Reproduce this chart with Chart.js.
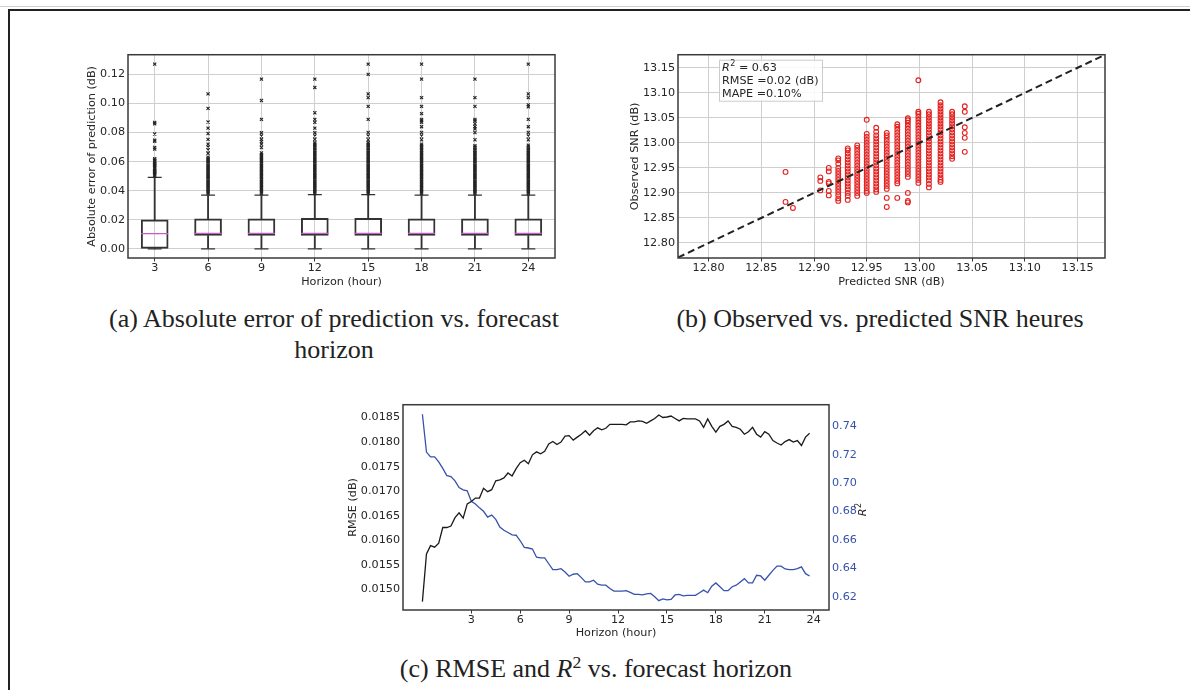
<!DOCTYPE html>
<html>
<head>
<meta charset="utf-8">
<script src="https://cdn.jsdelivr.net/npm/chart.js@4.4.0/dist/chart.umd.min.js"></script>
<style>
  body { margin: 0; width: 1190px; height: 690px; background: #fff; position: relative; overflow: hidden; }
  canvas { position: absolute; }
  .rule { position: absolute; left: 0; top: 6px; width: 1190px; height: 1px; background: #d0d0d0; }
  .frame { position: absolute; left: 8px; top: 9px; width: 1180px; height: 681px; border-top: 2px solid #222; border-left: 2px solid #222; }
  .cap { position: absolute; width: 500px; font-family: "Liberation Serif", "Times New Roman", serif; font-size: 26px; line-height: 31px; color: #222; text-align: center; white-space: nowrap; }
  .cap sup { font-size: 0.68em; line-height: 0; vertical-align: 0.5em; }
</style>
</head>
<body>
<div class="rule"></div>
<div class="frame"></div>
<canvas id="chartA" width="505" height="245" style="left:60px; top:45px;"></canvas>
<canvas id="chartB" width="505" height="245" style="left:615px; top:45px;"></canvas>
<canvas id="chartC" width="540" height="245" style="left:330px; top:395px;"></canvas>
<div class="cap" style="left:84px; top:303px;">(a) Absolute error of prediction vs. forecast<br>horizon</div>
<div class="cap" style="left:630px; top:303px;">(b) Observed vs. predicted SNR heures</div>
<div class="cap" style="left:346px; top:653px;">(c) RMSE and <i>R</i><sup>2</sup> vs. forecast horizon</div>
<script>
// ---- (a) box plot: absolute error per horizon ----
const horizonLabels = ['3', '6', '9', '12', '15', '18', '21', '24'];
const boxQ1 = [0.0000, 0.0092, 0.0092, 0.0092, 0.0092, 0.0092, 0.0092, 0.0092];
const boxMedian = [0.0105, 0.0106, 0.0106, 0.0106, 0.0106, 0.0106, 0.0106, 0.0106];
const boxQ3 = [0.0199, 0.0206, 0.0206, 0.0210, 0.0210, 0.0206, 0.0206, 0.0206];
const whiskerLow = [0, 0, 0, 0, 0, 0, 0, 0];
const whiskerHigh = [0.0492, 0.0369, 0.0369, 0.0373, 0.0373, 0.0369, 0.0369, 0.0369];

const out3 = [0.0500, 0.0508, 0.0516, 0.0524, 0.0532, 0.0540, 0.0548, 0.0556, 0.0564, 0.0572, 0.0580, 0.0588,
  0.0596, 0.0604, 0.0612, 0.0620, 0.0686, 0.0697, 0.0740, 0.0748, 0.0790, 0.0860, 0.0870, 0.1270];
const out6 = [0.038, 0.039, 0.040, 0.041, 0.042, 0.043, 0.044, 0.045, 0.046, 0.047, 0.048, 0.049, 0.050, 0.051,
  0.052, 0.053, 0.054, 0.055, 0.056, 0.057, 0.058, 0.059, 0.060, 0.061, 0.062, 0.063, 0.0657, 0.068, 0.070,
  0.072, 0.0753, 0.0793, 0.083, 0.0872, 0.0966, 0.1066];
const out9 = [0.038, 0.039, 0.040, 0.041, 0.042, 0.043, 0.044, 0.045, 0.046, 0.047, 0.048, 0.049, 0.050, 0.051,
  0.052, 0.053, 0.054, 0.055, 0.056, 0.057, 0.058, 0.059, 0.060, 0.061, 0.062, 0.063, 0.064, 0.065, 0.066,
  0.0697, 0.072, 0.0738, 0.0753, 0.0776, 0.0798, 0.089, 0.102, 0.1167];
const out12 = [0.038, 0.039, 0.040, 0.041, 0.042, 0.043, 0.044, 0.045, 0.046, 0.047, 0.048, 0.049, 0.050, 0.051,
  0.052, 0.053, 0.054, 0.055, 0.056, 0.057, 0.058, 0.059, 0.060, 0.061, 0.062, 0.063, 0.064, 0.065, 0.066,
  0.067, 0.068, 0.069, 0.070, 0.071, 0.072, 0.073, 0.0753, 0.0776, 0.0798, 0.083, 0.087, 0.089, 0.0936,
  0.111, 0.1167];
const out15 = [0.038, 0.039, 0.040, 0.041, 0.042, 0.043, 0.044, 0.045, 0.046, 0.047, 0.048, 0.049, 0.050, 0.051,
  0.052, 0.053, 0.054, 0.055, 0.056, 0.057, 0.058, 0.059, 0.060, 0.061, 0.062, 0.063, 0.064, 0.065, 0.066,
  0.067, 0.068, 0.069, 0.070, 0.071, 0.072, 0.073, 0.075, 0.0776, 0.080, 0.089, 0.098, 0.104, 0.1066,
  0.120, 0.127];
const out18 = [0.038, 0.039, 0.040, 0.041, 0.042, 0.043, 0.044, 0.045, 0.046, 0.047, 0.048, 0.049, 0.050, 0.051,
  0.052, 0.053, 0.054, 0.055, 0.056, 0.057, 0.058, 0.059, 0.060, 0.061, 0.062, 0.063, 0.064, 0.065, 0.066,
  0.067, 0.068, 0.069, 0.070, 0.071, 0.072, 0.075, 0.0776, 0.080, 0.084, 0.087, 0.088, 0.089, 0.093,
  0.098, 0.104, 0.1167, 0.127];
const out21 = [0.038, 0.039, 0.040, 0.041, 0.042, 0.043, 0.044, 0.045, 0.046, 0.047, 0.048, 0.049, 0.050, 0.051,
  0.052, 0.053, 0.054, 0.055, 0.056, 0.057, 0.058, 0.059, 0.060, 0.061, 0.062, 0.063, 0.064, 0.065, 0.066,
  0.067, 0.068, 0.069, 0.070, 0.071, 0.075, 0.080, 0.0825, 0.084, 0.086, 0.088, 0.089, 0.098, 0.104,
  0.1167];
const out24 = [0.038, 0.039, 0.040, 0.041, 0.042, 0.043, 0.044, 0.045, 0.046, 0.047, 0.048, 0.049, 0.050, 0.051,
  0.052, 0.053, 0.054, 0.055, 0.056, 0.057, 0.058, 0.059, 0.060, 0.061, 0.062, 0.063, 0.064, 0.065, 0.066,
  0.067, 0.068, 0.069, 0.070, 0.0713, 0.075, 0.0776, 0.080, 0.084, 0.089, 0.0977, 0.099, 0.104, 0.1066,
  0.127];
const outlierSets = [out3, out6, out9, out12, out15, out18, out21, out24];
const errTicks = [0.00, 0.02, 0.04, 0.06, 0.08, 0.10, 0.12];

// ---- (b) observed vs predicted SNR ----
const snrPredicted = [12.873, 12.880, 12.906, 12.914, 12.923, 12.932, 12.941, 12.950, 12.959, 12.969,
  12.979, 12.989, 12.999, 13.009, 13.020, 13.031, 13.043];
const snrObserved = [
  [12.942, 12.882],
  [12.870],
  [12.931, 12.924, 12.905],
  [12.950, 12.943, 12.922, 12.919, 12.904, 12.895],
  [12.969, 12.965, 12.958, 12.950, 12.944, 12.938, 12.932, 12.926, 12.920, 12.914, 12.908, 12.902, 12.896, 12.889, 12.884],
  [12.989, 12.985, 12.979, 12.973, 12.967, 12.961, 12.955, 12.949, 12.943, 12.937, 12.931, 12.925, 12.919, 12.913, 12.907, 12.900, 12.894, 12.886],
  [12.995, 12.990, 12.984, 12.978, 12.972, 12.966, 12.960, 12.954, 12.948, 12.942, 12.936, 12.930, 12.924, 12.918, 12.912, 12.906, 12.900, 12.894],
  [13.046, 13.018, 13.012, 13.006, 13.000, 12.994, 12.988, 12.982, 12.976, 12.970, 12.964, 12.958, 12.952, 12.946, 12.940, 12.934, 12.928, 12.922, 12.916, 12.910, 12.904, 12.900],
  [13.030, 13.022, 13.015, 13.009, 13.003, 12.997, 12.991, 12.985, 12.979, 12.973, 12.967, 12.961, 12.955, 12.949, 12.943, 12.937, 12.931, 12.925, 12.919, 12.913, 12.907, 12.902],
  [13.020, 13.015, 13.010, 13.004, 12.998, 12.992, 12.986, 12.980, 12.974, 12.968, 12.962, 12.956, 12.950, 12.944, 12.938, 12.932, 12.926, 12.920, 12.914, 12.908, 12.890, 12.872],
  [13.037, 13.032, 13.026, 13.020, 13.014, 13.008, 13.002, 12.996, 12.990, 12.984, 12.978, 12.972, 12.966, 12.960, 12.954, 12.948, 12.942, 12.936, 12.930, 12.924, 12.919, 12.890],
  [13.049, 13.045, 13.040, 13.034, 13.028, 13.022, 13.016, 13.010, 13.004, 12.998, 12.992, 12.986, 12.980, 12.974, 12.968, 12.962, 12.956, 12.950, 12.944, 12.938, 12.932, 12.900, 12.884, 12.881],
  [13.125, 13.062, 13.058, 13.052, 13.046, 13.040, 13.034, 13.028, 13.022, 13.016, 13.010, 13.004, 12.998, 12.992, 12.986, 12.980, 12.974, 12.968, 12.962, 12.956, 12.950, 12.944, 12.938, 12.932, 12.926, 12.920],
  [13.062, 13.057, 13.051, 13.045, 13.039, 13.033, 13.027, 13.021, 13.015, 13.009, 13.003, 12.997, 12.991, 12.985, 12.979, 12.973, 12.967, 12.961, 12.955, 12.949, 12.943, 12.937, 12.931, 12.925, 12.918, 12.911],
  [13.081, 13.075, 13.069, 13.063, 13.057, 13.051, 13.045, 13.039, 13.033, 13.027, 13.021, 13.015, 13.009, 13.003, 12.997, 12.991, 12.985, 12.979, 12.973, 12.967, 12.961, 12.955, 12.949, 12.943, 12.937, 12.931, 12.926, 12.922],
  [13.062, 13.057, 13.051, 13.045, 13.039, 13.033, 13.027, 13.021, 13.015, 13.009, 13.003, 12.997, 12.991, 12.985, 12.979, 12.973, 12.968],
  [13.073, 13.062, 13.031, 13.020, 13.010, 12.982]
];
const snrRange = [12.771, 13.176];
const snrTicks = [12.80, 12.85, 12.90, 12.95, 13.00, 13.05, 13.10, 13.15];
const statsLines = ['R2', 'RMSE =0.02 (dB)', 'MAPE =0.10%'];

// ---- (c) RMSE and R2 vs horizon ----
const hoursC = [0, 0.25, 0.5, 0.75, 1, 1.25, 1.5, 1.75, 2, 2.25, 2.5, 2.75, 3, 3.25, 3.5, 3.75, 4, 4.25, 4.5, 4.75,
  5, 5.25, 5.5, 5.75, 6, 6.25, 6.5, 6.75, 7, 7.25, 7.5, 7.75, 8, 8.25, 8.5, 8.75, 9, 9.25, 9.5, 9.75, 10, 10.25,
  10.5, 10.75, 11, 11.25, 11.5, 11.75, 12, 12.25, 12.5, 12.75, 13, 13.25, 13.5, 13.75, 14, 14.25, 14.5, 14.75,
  15, 15.25, 15.5, 15.75, 16, 16.25, 16.5, 16.75, 17, 17.25, 17.5, 17.75, 18, 18.25, 18.5, 18.75, 19, 19.25,
  19.5, 19.75, 20, 20.25, 20.5, 20.75, 21, 21.25, 21.5, 21.75, 22, 22.25, 22.5, 22.75, 23, 23.25, 23.5, 23.75];
const rmseC = [
  0.01475, 0.01572, 0.01589, 0.01586, 0.01594, 0.01626, 0.01626, 0.01629, 0.01646, 0.01656, 0.01645, 0.01674,
  0.01679, 0.01686, 0.01686, 0.01706, 0.01699, 0.01703, 0.01721, 0.01723, 0.01727, 0.01737, 0.01731, 0.01746,
  0.01758, 0.01763, 0.01756, 0.01774, 0.01780, 0.01776, 0.01781, 0.01796, 0.01801, 0.01795, 0.01800, 0.01812,
  0.01813, 0.01804, 0.01810, 0.01816, 0.01823, 0.01814, 0.01823, 0.01829, 0.01825, 0.01828, 0.01836, 0.01836,
  0.01836, 0.01836, 0.01835, 0.01841, 0.01841, 0.01843, 0.01842, 0.01838, 0.01843, 0.01848, 0.01855, 0.01850,
  0.01851, 0.01853, 0.01848, 0.01843, 0.01848, 0.01847, 0.01847, 0.01847, 0.01843, 0.01830, 0.01847, 0.01832,
  0.01820, 0.01832, 0.01836, 0.01843, 0.01832, 0.01830, 0.01826, 0.01816, 0.01821, 0.01830, 0.01816, 0.01810,
  0.01821, 0.01816, 0.01803, 0.01798, 0.01794, 0.01801, 0.01805, 0.01800, 0.01803, 0.01793, 0.01810, 0.01818];
const r2C = [
  0.7486, 0.7219, 0.7185, 0.7185, 0.7150, 0.7104, 0.7053, 0.7046, 0.7016, 0.6969, 0.6953, 0.6946,
  0.6872, 0.6853, 0.6826, 0.6802, 0.6761, 0.6775, 0.6745, 0.6691, 0.6668, 0.6652, 0.6636, 0.6633,
  0.6594, 0.6548, 0.6543, 0.6536, 0.6478, 0.6473, 0.6473, 0.6432, 0.6390, 0.6390, 0.6397, 0.6374,
  0.6344, 0.6358, 0.6362, 0.6334, 0.6304, 0.6304, 0.6316, 0.6288, 0.6281, 0.6281, 0.6258, 0.6239,
  0.6239, 0.6239, 0.6242, 0.6230, 0.6216, 0.6216, 0.6212, 0.6219, 0.6223, 0.6200, 0.6172, 0.6184,
  0.6177, 0.6181, 0.6212, 0.6216, 0.6205, 0.6209, 0.6209, 0.6209, 0.6228, 0.6246, 0.6228, 0.6274,
  0.6297, 0.6270, 0.6242, 0.6242, 0.6270, 0.6281, 0.6304, 0.6327, 0.6297, 0.6297, 0.6351, 0.6346,
  0.6316, 0.6351, 0.6385, 0.6415, 0.6415, 0.6395, 0.6390, 0.6390, 0.6397, 0.6410, 0.6362, 0.6346];
const hourTicks = [3, 6, 9, 12, 15, 18, 21, 24];
const rmseTicks = [0.0150, 0.0155, 0.0160, 0.0165, 0.0170, 0.0175, 0.0180, 0.0185];
const r2Ticks = [0.62, 0.64, 0.66, 0.68, 0.70, 0.72, 0.74];

// ---- shared styling ----
const TEXT = '#262626';
const GRID = '#cfcfcf';
const BLUE = '#3652ad';
Chart.defaults.font.family = '"DejaVu Sans", sans-serif';
Chart.defaults.font.size = 11.2;
Chart.defaults.color = TEXT;
Chart.defaults.animation = false;
Chart.defaults.plugins.legend.display = false;
Chart.defaults.plugins.tooltip.enabled = false;

// box round the plot area, matplotlib style
const frame = {
  id: 'frame',
  afterDraw(chart) {
    const { ctx, chartArea: a } = chart;
    ctx.save();
    ctx.strokeStyle = '#3a3a3a';
    ctx.lineWidth = 1.5;
    ctx.strokeRect(a.left, a.top, a.right - a.left, a.bottom - a.top);
    ctx.restore();
  }
};

function setTicks(values) {
  return scale => { scale.ticks = values.map(v => ({ value: v })); };
}

// draws an italic R with a raised 2, returns the width used
function drawR2(ctx, x, y, size) {
  ctx.font = 'italic ' + size + 'px "DejaVu Sans"';
  ctx.fillText('R', x, y);
  const w = ctx.measureText('R').width;
  ctx.font = Math.round(size * 0.7) + 'px "DejaVu Sans"';
  ctx.fillText('2', x + w + 0.5, y - size * 0.38);
  return w + 0.5 + ctx.measureText('2').width;
}

// (a)
const outlierPoints = outlierSets.flatMap((vals, i) => vals.map(v => ({ x: horizonLabels[i], y: v })));
const medianPoints = boxMedian.map((v, i) => ({ x: horizonLabels[i], y: v }));
const capPoints = horizonLabels.flatMap((h, i) => [{ x: h, y: whiskerLow[i] }, { x: h, y: whiskerHigh[i] }]);

new Chart(document.getElementById('chartA'), {
  type: 'bar',
  data: {
    labels: horizonLabels,
    datasets: [
      { type: 'line', data: outlierPoints, showLine: false, pointStyle: 'crossRot', pointRadius: 2.2,
        pointBorderColor: '#222', pointBorderWidth: 1.1, pointBackgroundColor: '#222', order: 1 },
      { type: 'line', data: medianPoints, showLine: false, pointStyle: 'line', pointRadius: 13.5,
        pointBorderColor: '#c45ec4', pointBorderWidth: 1.2, order: 2 },
      { type: 'line', data: capPoints, showLine: false, pointStyle: 'line', pointRadius: 7,
        pointBorderColor: '#333', pointBorderWidth: 1.3, order: 3 },
      { type: 'bar', data: boxQ1.map((q, i) => [q, boxQ3[i]]), barThickness: 27, grouped: false,
        backgroundColor: 'rgba(0,0,0,0)', borderColor: '#333', borderWidth: 1.3, borderSkipped: false, order: 4 },
      { type: 'bar', data: boxQ3.map((q, i) => [q, whiskerHigh[i]]), barThickness: 1.2, grouped: false,
        backgroundColor: '#333', borderWidth: 0, order: 5 },
      { type: 'bar', data: whiskerLow.map((w, i) => [w, boxQ1[i]]), barThickness: 1.2, grouped: false,
        backgroundColor: '#333', borderWidth: 0, order: 6 }
    ]
  },
  options: {
    responsive: false,
    layout: { autoPadding: false, padding: { top: 5, right: 10, left: 0, bottom: 0 } },
    scales: {
      x: {
        type: 'category', offset: true,
        grid: { color: GRID, offset: false, tickLength: 3.5, tickColor: '#333' },
        border: { display: false },
        ticks: { padding: 0, maxRotation: 0 },
        title: { display: true, text: 'Horizon (hour)', padding: { top: 0, bottom: 1.5 } },
        afterFit: s => { s.height = 32; }
      },
      y: {
        min: -0.0063, max: 0.1335,
        afterBuildTicks: setTicks(errTicks),
        grid: { color: GRID, drawTicks: false },
        border: { display: false },
        ticks: { padding: 3, callback: v => Number(v).toFixed(2) },
        title: { display: true, text: 'Absolute error of prediction (dB)', padding: { top: 25 } },
        afterFit: s => { s.width = 68; }
      }
    }
  },
  plugins: [frame]
});

// (b)
const snrPoints = snrPredicted.flatMap((p, i) => snrObserved[i].map(o => ({ x: p, y: o })));
const diagonal = snrRange.map(v => ({ x: v, y: v }));

const statsBox = {
  id: 'statsBox',
  afterDatasetsDraw(chart) {
    const { ctx, chartArea: a } = chart;
    const x = a.left + 41, y = a.top + 5;
    ctx.save();
    ctx.fillStyle = 'rgba(255,255,255,0.85)';
    ctx.fillRect(x, y, 103, 41);
    ctx.strokeStyle = '#cccccc';
    ctx.lineWidth = 1;
    ctx.strokeRect(x + 0.5, y + 0.5, 103, 41);
    ctx.fillStyle = TEXT;
    ctx.textBaseline = 'middle';
    const w = drawR2(ctx, x + 3, y + 8, 11.2);
    ctx.font = '11.2px "DejaVu Sans"';
    ctx.fillText(' = 0.63', x + 3 + w, y + 8);
    ctx.fillText(statsLines[1], x + 3, y + 21);
    ctx.fillText(statsLines[2], x + 3, y + 34);
    ctx.restore();
  }
};

new Chart(document.getElementById('chartB'), {
  type: 'scatter',
  data: {
    datasets: [
      { type: 'line', data: diagonal, borderColor: '#222', borderWidth: 2, borderDash: [7, 4],
        pointRadius: 0, order: 0 },
      { data: snrPoints, pointStyle: 'circle', pointRadius: 2.4, pointBorderWidth: 1.1,
        pointBorderColor: '#e3201e', pointBackgroundColor: 'rgba(0,0,0,0)', order: 1 }
    ]
  },
  options: {
    responsive: false,
    layout: { autoPadding: false, padding: { top: 5, right: 15, left: 0, bottom: 0 } },
    scales: {
      x: {
        type: 'linear', min: snrRange[0], max: snrRange[1],
        afterBuildTicks: setTicks(snrTicks),
        grid: { color: GRID, tickLength: 3.5, tickColor: '#333' },
        border: { display: false },
        ticks: { padding: 0, maxRotation: 0, callback: v => Number(v).toFixed(2) },
        title: { display: true, text: 'Predicted SNR (dB)', padding: { top: 0, bottom: 1.5 } },
        afterFit: s => { s.height = 32; }
      },
      y: {
        type: 'linear', min: snrRange[0] - 0.001, max: snrRange[1],
        afterBuildTicks: setTicks(snrTicks),
        grid: { color: GRID, drawTicks: false },
        border: { display: false },
        ticks: { padding: 3, callback: v => Number(v).toFixed(2) },
        title: { display: true, text: 'Observed SNR (dB)', padding: { top: 13 } },
        afterFit: s => { s.width = 63; }
      }
    }
  },
  plugins: [frame, statsBox]
});

// (c)
const r2Title = {
  id: 'r2Title',
  afterDraw(chart) {
    const { ctx, chartArea: a } = chart;
    ctx.save();
    ctx.translate(a.right + 34, (a.top + a.bottom) / 2 + 9);
    ctx.rotate(-Math.PI / 2);
    ctx.fillStyle = TEXT;
    ctx.textBaseline = 'middle';
    drawR2(ctx, 0, 0, 11.2);
    ctx.restore();
  }
};

new Chart(document.getElementById('chartC'), {
  type: 'line',
  data: {
    datasets: [
      { data: hoursC.map((h, i) => ({ x: h, y: rmseC[i] })), yAxisID: 'y', borderColor: '#1a1a1a',
        borderWidth: 1.3, pointRadius: 0, tension: 0 },
      { data: hoursC.map((h, i) => ({ x: h, y: r2C[i] })), yAxisID: 'y1', borderColor: BLUE,
        borderWidth: 1.3, pointRadius: 0, tension: 0 }
    ]
  },
  options: {
    responsive: false,
    layout: { autoPadding: false, padding: { top: 7, right: 0, left: 0, bottom: 0 } },
    scales: {
      x: {
        type: 'linear', min: -1.19, max: 24.94,
        afterBuildTicks: setTicks(hourTicks),
        grid: { drawOnChartArea: false, tickLength: 3.5, tickColor: '#333' },
        border: { display: false },
        ticks: { padding: 0, maxRotation: 0 },
        title: { display: true, text: 'Horizon (hour)', padding: { top: 0, bottom: 0 } },
        afterFit: s => { s.height = 30; }
      },
      y: {
        type: 'linear', position: 'left', min: 0.01458, max: 0.01876,
        afterBuildTicks: setTicks(rmseTicks),
        grid: { drawOnChartArea: false, drawTicks: false },
        border: { display: false },
        ticks: { padding: 3, callback: v => Number(v).toFixed(4) },
        title: { display: true, text: 'RMSE (dB)', padding: { top: 16 } },
        afterFit: s => { s.width = 73; }
      },
      y1: {
        type: 'linear', position: 'right', min: 0.6106, max: 0.7553,
        afterBuildTicks: setTicks(r2Ticks),
        grid: { drawOnChartArea: false, drawTicks: false },
        border: { display: false },
        ticks: { padding: 3, color: BLUE, callback: v => Number(v).toFixed(2) },
        afterFit: s => { s.width = 41; }
      }
    }
  },
  plugins: [frame, r2Title]
});
</script>
</body>
</html>
